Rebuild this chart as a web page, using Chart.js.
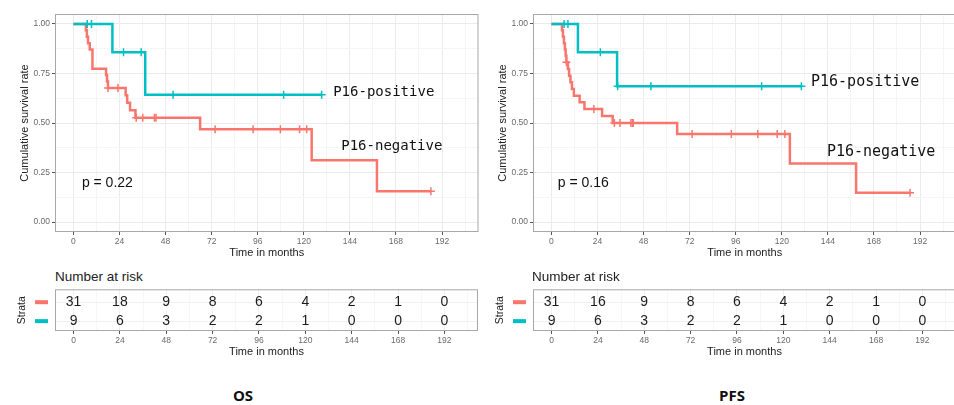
<!DOCTYPE html>
<html>
<head>
<meta charset="utf-8">
<script src="https://cdn.jsdelivr.net/npm/chart.js@4.4.1/dist/chart.umd.min.js"></script>
<style>
  html, body { margin:0; padding:0; background:#fff; }
  #page { position:relative; width:954px; height:405px; overflow:hidden; font-family:"Liberation Sans", Arial, sans-serif; }
  .box { position:absolute; }
  .km { top:0; width:484px; height:262px; }
  .risk { top:283px; width:484px; height:77px; }
  .nar { position:absolute; top:269px; font-size:13.5px; line-height:16px; color:#222; }
  .cap { position:absolute; top:386px; width:100px; text-align:center; font:bold 15px "Open Sans", sans-serif; line-height:18px; color:#111; }
</style>
</head>
<body>
<div id="page">
  <div class="box km" style="left:0"><canvas id="osKm"></canvas></div>
  <div class="nar" style="left:55px">Number at risk</div>
  <div class="box risk" style="left:0"><canvas id="osRisk"></canvas></div>
  <div class="cap" style="left:193px">OS</div>

  <div class="box km" style="left:477.5px"><canvas id="pfsKm"></canvas></div>
  <div class="nar" style="left:532px">Number at risk</div>
  <div class="box risk" style="left:477.5px"><canvas id="pfsRisk"></canvas></div>
  <div class="cap" style="left:682px">PFS</div>
</div>
<script>
// ── DATA ─────────────────────────────────────────────────────────
const SALMON = '#F8766D', TEAL = '#00BFC4';

const riskTimes = [0, 24, 48, 72, 96, 120, 144, 168, 192];
const gridTimes = [0, 12, 24, 36, 48, 60, 72, 84, 96, 108, 120, 132, 144, 156, 168, 180, 192, 204];
const gridSurv  = [0, 0.125, 0.25, 0.375, 0.5, 0.625, 0.75, 0.875, 1];

// OS – P16-negative
const osNegTime = [0, 6.5, 7.0, 7.6, 8.5, 9.9, 17.0, 17.5, 18.0, 27.2, 28.0, 29.5, 32.3, 66.0, 124.1, 158.1, 186.2];
const osNegSurv = [1, 0.968, 0.935, 0.903, 0.871, 0.774, 0.742, 0.710, 0.677, 0.640, 0.602, 0.564, 0.527, 0.468, 0.312, 0.156, 0.156];
const osNegCens = [18.0, 23.2, 32.7, 36.1, 42.2, 43.0, 73.8, 93.6, 107.8, 117.8, 121.5, 186.2];
// OS – P16-positive
const osPosTime = [0, 20.3, 37.4, 129.3];
const osPosSurv = [1, 0.857, 0.643, 0.643];
const osPosCens = [7.2, 9.4, 26.1, 35.3, 51.9, 109.5, 129.3];

// PFS – P16-negative
const pfsNegTime = [0, 5.5, 6.0, 6.5, 7.0, 7.4, 7.8, 8.6, 9.2, 9.9, 10.7, 11.7, 14.7, 17.2, 26.4, 31.9, 65.5, 124.2, 158.7, 186.8];
const pfsNegSurv = [1, 0.968, 0.935, 0.903, 0.871, 0.839, 0.806, 0.772, 0.739, 0.705, 0.672, 0.638, 0.605, 0.571, 0.535, 0.500, 0.444, 0.296, 0.148, 0.148];
const pfsNegCens = [7.8, 22.1, 32.8, 35.7, 41.4, 42.2, 42.6, 73.3, 93.7, 107.5, 117.6, 121.6, 186.8];
// PFS – P16-positive
const pfsPosTime = [0, 13.8, 34.2, 130.2];
const pfsPosSurv = [1, 0.857, 0.686, 0.686];
const pfsPosCens = [6.6, 8.6, 25.5, 34.5, 51.8, 109.5, 130.2];

// Number at risk
const osRiskNeg  = [31, 18, 9, 8, 6, 4, 2, 1, 0];
const osRiskPos  = [9, 6, 3, 2, 2, 1, 0, 0, 0];
const pfsRiskNeg = [31, 16, 9, 8, 6, 4, 2, 1, 0];
const pfsRiskPos = [9, 6, 3, 2, 2, 1, 0, 0, 0];

// ── HELPERS ──────────────────────────────────────────────────────
const FONT = '"Liberation Sans", Arial, sans-serif';
const MAJOR = '#EBEBEB', MINOR = '#F5F5F5';
const isMajT = v => v % 24 === 0;
const isMajS = v => Math.abs(v * 4 - Math.round(v * 4)) < 1e-6;

function survAt(times, surv, t) {
  let s = surv[0];
  times.forEach((tt, i) => { if (tt <= t) s = surv[i]; });
  return s;
}

function curveSets(times, surv, cens, color, order) {
  return [
    { type:'line', data: times.map((t,i) => ({x:t, y:surv[i]})), borderColor:color, borderWidth:2.5,
      stepped:'before', pointRadius:0, fill:false, borderJoinStyle:'miter', order },
    { type:'scatter', data: cens.map(t => ({x:t, y:survAt(times, surv, t)})), pointStyle:'cross',
      pointRadius:4, borderColor:color, backgroundColor:color, borderWidth:1.5, order }
  ];
}

const kmDecor = {
  id: 'kmDecor',
  afterDraw(chart, args, opts) {
    const {ctx, chartArea:a, scales:{x, y}} = chart;
    ctx.save();
    ctx.strokeStyle = '#a8a8a8'; ctx.lineWidth = 1;
    ctx.strokeRect(a.left + 0.5, a.top + 0.5, a.width - 1, a.height - 1);
    (opts.labels || []).forEach(l => {
      ctx.font = l.font; ctx.fillStyle = '#111';
      ctx.textAlign = 'left'; ctx.textBaseline = 'middle';
      ctx.fillText(l.text, x.getPixelForValue(l.x), y.getPixelForValue(l.y));
    });
    ctx.restore();
  }
};

const riskDecor = {
  id: 'riskDecor',
  afterDraw(chart, args, opts) {
    const {ctx, chartArea:a, scales:{x, y}} = chart;
    ctx.save();
    ctx.strokeStyle = '#a8a8a8'; ctx.lineWidth = 1;
    ctx.strokeRect(a.left + 0.5, a.top + 0.5, a.width - 1, a.height - 1);
    opts.rows.forEach(r => {
      const py = y.getPixelForValue(r.y);
      ctx.fillStyle = r.color;
      ctx.fillRect(a.left - 20, py - 2, 13, 4);
      ctx.fillStyle = '#1a1a1a';
      ctx.font = '14px ' + FONT; ctx.textAlign = 'center'; ctx.textBaseline = 'middle';
      r.values.forEach((v, i) => ctx.fillText(String(v), x.getPixelForValue(riskTimes[i]), py));
    });
    ctx.restore();
  }
};

function xScale(max, height, titlePad) {
  return {
    type:'linear', min:-9.6, max,
    afterBuildTicks: s => { s.ticks = gridTimes.map(v => ({value:v})); },
    afterFit: s => { s.height = height; s.paddingLeft = 0; s.paddingRight = 0; },
    border:{ display:false },
    grid:{ color: c => (c.tick && isMajT(c.tick.value)) ? MAJOR : MINOR,
           tickColor: c => (c.tick && isMajT(c.tick.value)) ? '#555' : 'rgba(0,0,0,0)', tickLength:3 },
    ticks:{ autoSkip:false, maxRotation:0, padding:2, color:'#6a6a6a', font:{size:8.5, family:FONT},
            callback: v => isMajT(v) ? String(v) : '' },
    title:{ display:true, text:'Time in months', color:'#222', font:{size:11, family:FONT}, padding:{top:0, bottom:titlePad} }
  };
}

function makeKm(id, sets, labels) {
  new Chart(document.getElementById(id), {
    type:'line',
    data:{ datasets: sets },
    plugins:[kmDecor],
    options:{
      responsive:true, maintainAspectRatio:false, animation:false,
      layout:{ padding:{ top:14, right:3.5, left:0, bottom:0 } },
      plugins:{ legend:{ display:false }, tooltip:{ enabled:false }, kmDecor:{ labels } },
      scales:{
        x: xScale(211, 30, 2),
        y: {
          min:-0.05, max:1.05,
          afterBuildTicks: s => { s.ticks = gridSurv.map(v => ({value:v})); },
          afterFit: s => { s.width = 55; s.paddingTop = 0; s.paddingBottom = 0; },
          border:{ display:false },
          grid:{ color: c => (c.tick && isMajS(c.tick.value)) ? MAJOR : MINOR,
                 tickColor: c => (c.tick && isMajS(c.tick.value)) ? '#555' : 'rgba(0,0,0,0)', tickLength:3 },
          ticks:{ padding:2, color:'#6a6a6a', font:{size:8.5, family:FONT}, callback: v => isMajS(v) ? v.toFixed(2) : '' },
          title:{ display:true, text:'Cumulative survival rate', color:'#222', font:{size:11, family:FONT}, padding:{top:18, bottom:0} }
        }
      }
    }
  });
}

function makeRisk(id, neg, pos) {
  new Chart(document.getElementById(id), {
    type:'scatter',
    data:{ datasets:[] },
    plugins:[riskDecor],
    options:{
      responsive:true, maintainAspectRatio:false, animation:false,
      layout:{ padding:{ top:6.3, right:6, left:0, bottom:0 } },
      plugins:{ legend:{ display:false }, tooltip:{ enabled:false },
                riskDecor:{ rows:[ {y:2, color:SALMON, values:neg}, {y:1, color:TEAL, values:pos} ] } },
      scales:{
        x: Object.assign(xScale(209.4, 29, 1), {
          grid:{ color: c => (c.tick && isMajT(c.tick.value)) ? '#F0F0F0' : '#F7F7F7',
                 tickColor: c => (c.tick && isMajT(c.tick.value)) ? '#555' : 'rgba(0,0,0,0)', tickLength:3 } }),
        y: {
          min:0.48, max:2.68,
          afterBuildTicks: s => { s.ticks = [{value:1}, {value:2}]; },
          afterFit: s => { s.width = 55; s.paddingTop = 0; s.paddingBottom = 0; },
          border:{ display:false },
          grid:{ color:'#F0F0F0', drawTicks:false },
          ticks:{ display:false },
          title:{ display:true, text:'Strata', color:'#222', font:{size:10.5, family:FONT}, padding:{top:16, bottom:0} }
        }
      }
    }
  });
}

// ── CHARTS ───────────────────────────────────────────────────────
makeKm('osKm',
  [...curveSets(osPosTime, osPosSurv, osPosCens, TEAL, 0), ...curveSets(osNegTime, osNegSurv, osNegCens, SALMON, 1)],
  [ {text:'P16-positive', x:135.3, y:0.654, font:'14px "DejaVu Sans Mono", monospace'},
    {text:'P16-negative', x:139.5, y:0.382, font:'14px "DejaVu Sans Mono", monospace'},
    {text:'p = 0.22', x:4.4, y:0.195, font:'14px ' + FONT} ]);

makeKm('pfsKm',
  [...curveSets(pfsPosTime, pfsPosSurv, pfsPosCens, TEAL, 0), ...curveSets(pfsNegTime, pfsNegSurv, pfsNegCens, SALMON, 1)],
  [ {text:'P16-positive', x:135.2, y:0.707, font:'15px "DejaVu Sans Mono", monospace'},
    {text:'P16-negative', x:143.5, y:0.355, font:'15px "DejaVu Sans Mono", monospace'},
    {text:'p = 0.16', x:3.3, y:0.198, font:'14px ' + FONT} ]);

makeRisk('osRisk', osRiskNeg, osRiskPos);
makeRisk('pfsRisk', pfsRiskNeg, pfsRiskPos);
</script>
</body>
</html>
